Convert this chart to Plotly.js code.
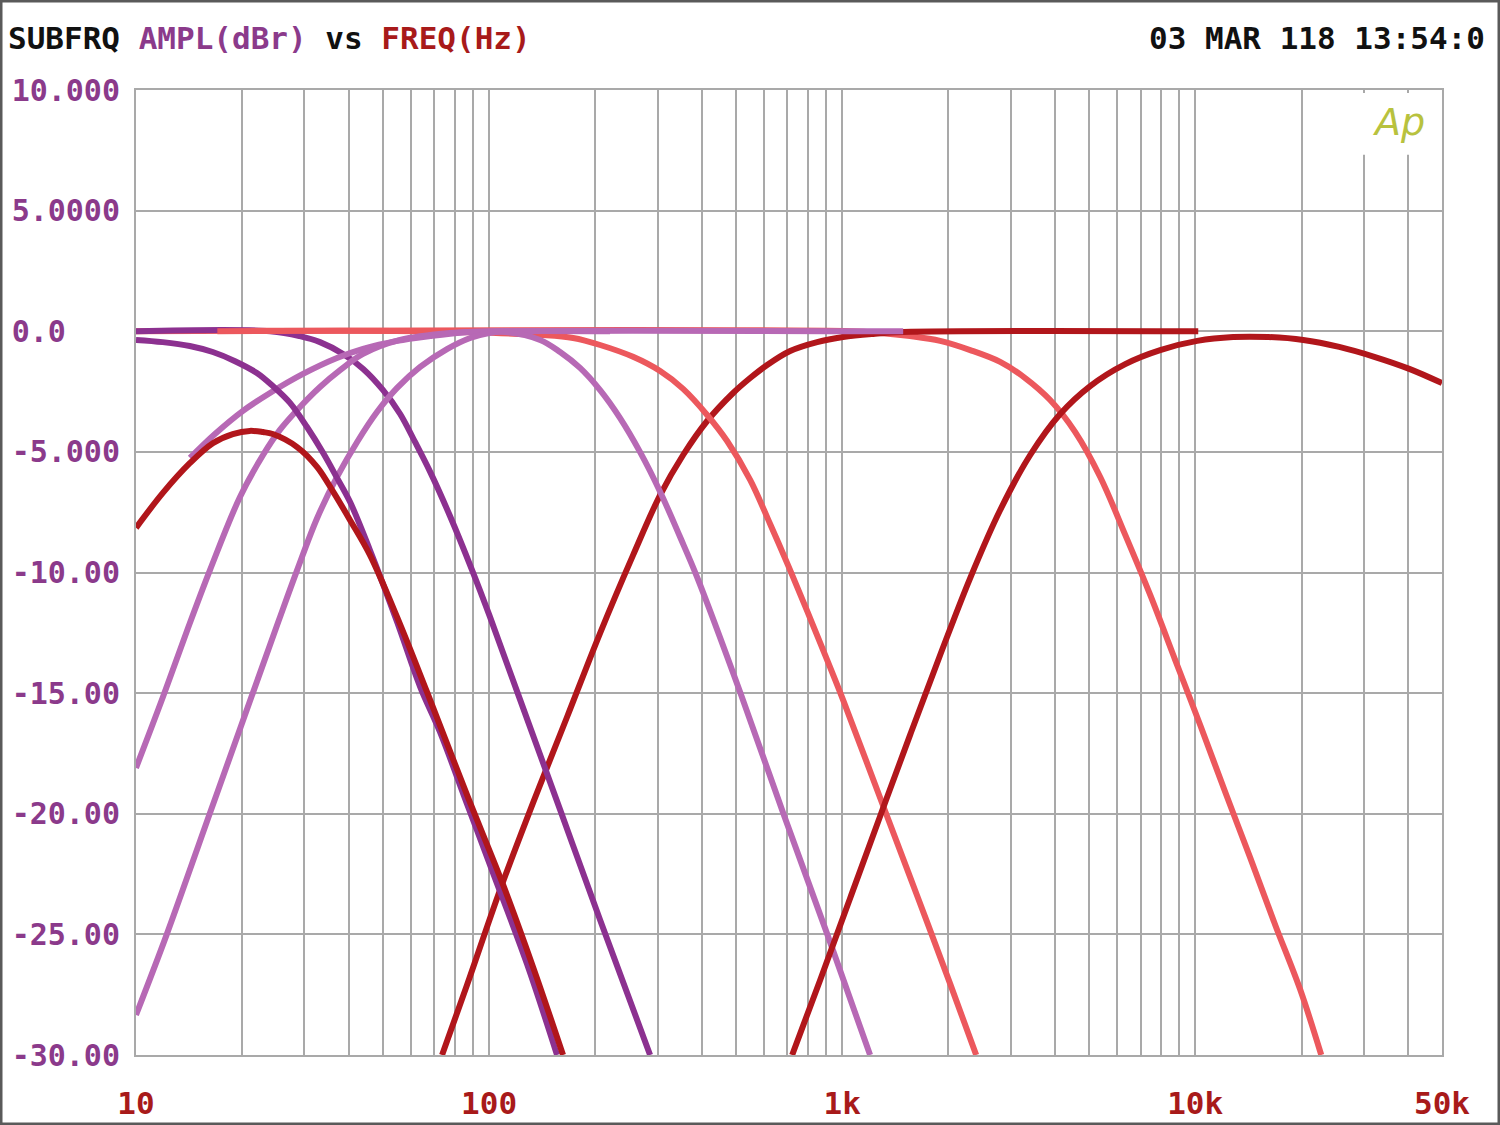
<!DOCTYPE html>
<html>
<head>
<meta charset="utf-8">
<script src="https://cdn.plot.ly/plotly-3.0.1.min.js"></script>
<style>html,body{margin:0;padding:0;background:#fff;}</style>
</head>
<body>
<div id="chart" style="width:1500px;height:1125px;"></div>
<script>
// ---------- tick labels ----------
const xTickVals = [10, 100, 1000, 10000, 50000];
const xTickText = ["10", "100", "1k", "10k", "50k"];
const xMinorGrid = [20,30,40,50,60,70,80,90,200,300,400,500,600,700,800,900,
                    2000,3000,4000,5000,6000,7000,8000,9000,20000,30000,40000];
const yTickVals = [10, 5, 0, -5, -10, -15, -20, -25, -30];
const yTickText = ["10.000", "5.0000", "0.0", "-5.000", "-10.00", "-15.00", "-20.00", "-25.00", "-30.00"];

// ---------- series (frequency in Hz, amplitude in dBr) ----------
const lp2SalmonF  = [10, 1054, 1281, 1558, 1895, 2305, 2803, 3299, 3883, 4573, 5382, 6336, 7456, 8778, 10330, 12160, 14320, 16850, 19840, 22750];
const lp2SalmonDb = [0, 0, -0.07, -0.20, -0.40, -0.78, -1.27, -1.94, -2.85, -4.18, -6.04, -8.44, -10.93, -13.63, -16.32, -19.10, -21.83, -24.61, -27.30, -30];

const hp1RedF  = [73.6, 86.6, 107.4, 133.2, 166.3, 206.3, 255.8, 305.1, 354.5, 414.6, 491.2, 548.8, 613.1, 712.4, 849.7, 1006, 1224, 1489, 10200];
const hp1RedDb = [-30, -27.10, -23.16, -19.55, -15.99, -12.51, -9.28, -6.79, -5.13, -3.72, -2.56, -1.94, -1.40, -0.82, -0.45, -0.24, -0.11, -0.03, 0];

const lp2PurpleF  = [10, 24.0, 29.1, 33.2, 38.6, 44.0, 50.1, 56.0, 61.7, 68.1, 77.5, 89.5, 100.6, 122.4, 158.9, 206.3, 285.8];
const lp2PurpleDb = [0, 0, -0.20, -0.45, -0.94, -1.56, -2.44, -3.43, -4.59, -5.83, -7.66, -9.90, -11.84, -15.27, -19.83, -24.40, -30];

const lp1SalmonF  = [17.0, 63.8, 142.2, 173.0, 206.3, 255.8, 305.1, 354.5, 414.6, 472.3, 548.8, 625.2, 712.4, 795.8, 866.6, 1006, 1307, 1632, 2023, 2397];
const lp1SalmonDb = [0, 0, -0.16, -0.28, -0.57, -1.06, -1.65, -2.39, -3.47, -4.55, -6.16, -7.99, -9.90, -11.59, -12.92, -15.28, -19.68, -23.41, -27.05, -30];

const hp2OrchidF  = [10, 11.92, 14.04, 16.20, 19.70, 22.90, 25.56, 29.14, 33.20, 37.84, 43.96, 55.97, 77.5, 107.4, 220.2];
const hp2OrchidDb = [-18.10, -15.16, -12.30, -9.90, -6.87, -5.13, -4.09, -3.14, -2.31, -1.61, -0.94, -0.36, -0.07, 0, 0];

const hp1OrchidF  = [14.22, 16.73, 20.09, 23.96, 29.72, 37.07, 43.96, 54.89, 68.1, 84.4, 107.4, 1489];
const hp1OrchidDb = [-5.25, -4.26, -3.30, -2.56, -1.77, -1.11, -0.73, -0.40, -0.20, -0.05, 0, 0];

const bpOrchidF  = [10, 12.2, 16.2, 21.0, 25.4, 28.6, 32.6, 37.1, 42.3, 48.2, 54.9, 63.8, 76.0, 88.4, 100, 111.0, 139.5, 158.9, 181.0, 206.3, 235.0, 267.8, 305.1, 347.6, 388.3, 514.0, 680.7, 906.8, 1200];
const bpOrchidDb = [-28.34, -25.03, -19.97, -15.35, -11.97, -9.90, -7.74, -6.04, -4.59, -3.34, -2.35, -1.48, -0.74, -0.28, -0.07, -0.03, -0.36, -0.86, -1.52, -2.44, -3.60, -5.01, -6.65, -8.53, -10.19, -14.95, -19.97, -24.98, -30];

const lp1PurpleF  = [10, 11.9, 14.2, 16.5, 19.08, 22.0, 24.4, 27.3, 30.5, 33.9, 37.1, 40.4, 46.0, 54.9, 63.8, 72.6, 86.6, 102.6, 128.1, 155.8];
const lp1PurpleDb = [-0.36, -0.45, -0.61, -0.86, -1.24, -1.73, -2.27, -2.97, -3.97, -5.05, -6.08, -7.08, -9.08, -12.05, -14.74, -16.61, -19.59, -22.45, -26.23, -30];

const bpRedF  = [10, 11.9, 14.2, 16.5, 18.8, 21.0, 22.9, 24.4, 28.6, 32.6, 36.2, 40.4, 46.0, 54.9, 66.7, 86.6, 109.6, 133.2, 162.0];
const bpRedDb = [-8.15, -6.71, -5.47, -4.64, -4.26, -4.13, -4.18, -4.26, -4.80, -5.63, -6.66, -7.83, -9.28, -11.85, -14.95, -19.22, -22.95, -26.35, -30];

const hp2RedF  = [721.8, 866.6, 1054, 1281, 1558, 1895, 2305, 2803, 3409, 4145, 5041, 6336, 7958, 10130, 12810, 16100, 20230, 25580, 32150, 40390, 50000];
const hp2RedDb = [-30, -26.89, -23.49, -20.10, -16.73, -13.42, -10.23, -7.41, -5.13, -3.43, -2.27, -1.36, -0.78, -0.40, -0.24, -0.24, -0.36, -0.65, -1.06, -1.56, -2.15];

// ---------- styling ----------
const C_RED = "#b1161b", C_PURPLE = "#8c3190", C_ORCHID = "#b769b5", C_SALMON = "#ec585d";
const LW = 6;
function tr(x, y, color) {
  return {x: x, y: y, type: "scatter", mode: "lines",
          line: {color: color, width: LW, shape: "spline", smoothing: 1.0},
          hoverinfo: "skip", showlegend: false};
}
const data = [
  tr(lp2SalmonF, lp2SalmonDb, C_SALMON),
  tr(hp1RedF, hp1RedDb, C_RED),
  tr(lp2PurpleF, lp2PurpleDb, C_PURPLE),
  tr(lp1SalmonF, lp1SalmonDb, C_SALMON),
  tr(hp2OrchidF, hp2OrchidDb, C_ORCHID),
  tr(hp1OrchidF, hp1OrchidDb, C_ORCHID),
  tr(bpOrchidF, bpOrchidDb, C_ORCHID),
  tr(lp1PurpleF, lp1PurpleDb, C_PURPLE),
  tr(bpRedF, bpRedDb, C_RED),
  tr(hp2RedF, hp2RedDb, C_RED)
];

const MONO = "DejaVu Sans Mono, Liberation Mono, monospace";
const GRID = "#a9a9a9";
const padTxt = yTickText.map(s => s + "\u00A0".repeat(Math.max(0, 6 - s.length)));

const layout = {
  width: 1500, height: 1125,
  margin: {l: 136, r: 58, t: 90, b: 70},
  paper_bgcolor: "#ffffff", plot_bgcolor: "#ffffff",
  title: {
    text: '<b><span style="color:#111111">SUBFRQ</span> <span style="color:#8b3a8b">AMPL(dBr)</span> <span style="color:#111111">vs</span> <span style="color:#a81a1a">FREQ(Hz)</span></b>',
    font: {family: MONO, size: 31, color: "#111111"},
    x: 8 / 1500, xref: "container", xanchor: "left",
    y: 1 - 38 / 1125, yref: "container", yanchor: "middle"
  },
  xaxis: {
    type: "log", range: [1, Math.log10(50000)],
    tickmode: "array", tickvals: xTickVals, ticktext: xTickText,
    tickfont: {family: MONO, size: 31, color: "#a81a1a", weight: "bold"},
    ticks: "", ticklabelstandoff: 20,
    showgrid: true, gridcolor: GRID, gridwidth: 2,
    minor: {tickmode: "array", tickvals: xMinorGrid, showgrid: true, gridcolor: GRID, gridwidth: 2, ticks: ""},
    showline: true, linecolor: GRID, linewidth: 2, mirror: true,
    zeroline: false, fixedrange: true
  },
  yaxis: {
    range: [-30, 10],
    tickmode: "array", tickvals: yTickVals, ticktext: padTxt,
    tickfont: {family: MONO, size: 30, color: "#8b3a8b", weight: "bold"},
    ticks: "", ticklabelstandoff: 8,
    showgrid: true, gridcolor: GRID, gridwidth: 2,
    showline: true, linecolor: GRID, linewidth: 2, mirror: true,
    zeroline: false, fixedrange: true
  },
  shapes: [
    {type: "rect", xref: "paper", yref: "paper", x0: 0.914, x1: 0.996, y0: 0.933, y1: 0.997,
     fillcolor: "#ffffff", line: {width: 0}, layer: "above"},
    {type: "rect", xref: "paper", yref: "paper",
     x0: -135 / 1306, x1: 1363 / 1306, y0: -69 / 965, y1: 1054 / 965,
     fillcolor: "rgba(0,0,0,0)", line: {color: "#5a5a5a", width: 3}, layer: "above"}
  ],
  annotations: [
    {text: "<b>03 MAR 118 13:54:0</b>", xref: "paper", yref: "paper",
     x: (1487 - 136) / 1306, y: (1055 - 38) / 965, xanchor: "right", yanchor: "middle",
     showarrow: false, font: {family: MONO, size: 31, color: "#111111"}},
    {text: "<i>Ap</i>", xref: "paper", yref: "paper",
     x: (1398 - 136) / 1306, y: (1055 - 122) / 965, xanchor: "center", yanchor: "middle",
     showarrow: false, font: {family: "DejaVu Sans, sans-serif", size: 38, color: "#b8c23e"}}
  ]
};

Plotly.newPlot("chart", data, layout, {displayModeBar: false, staticPlot: true});
</script>
</body>
</html>
